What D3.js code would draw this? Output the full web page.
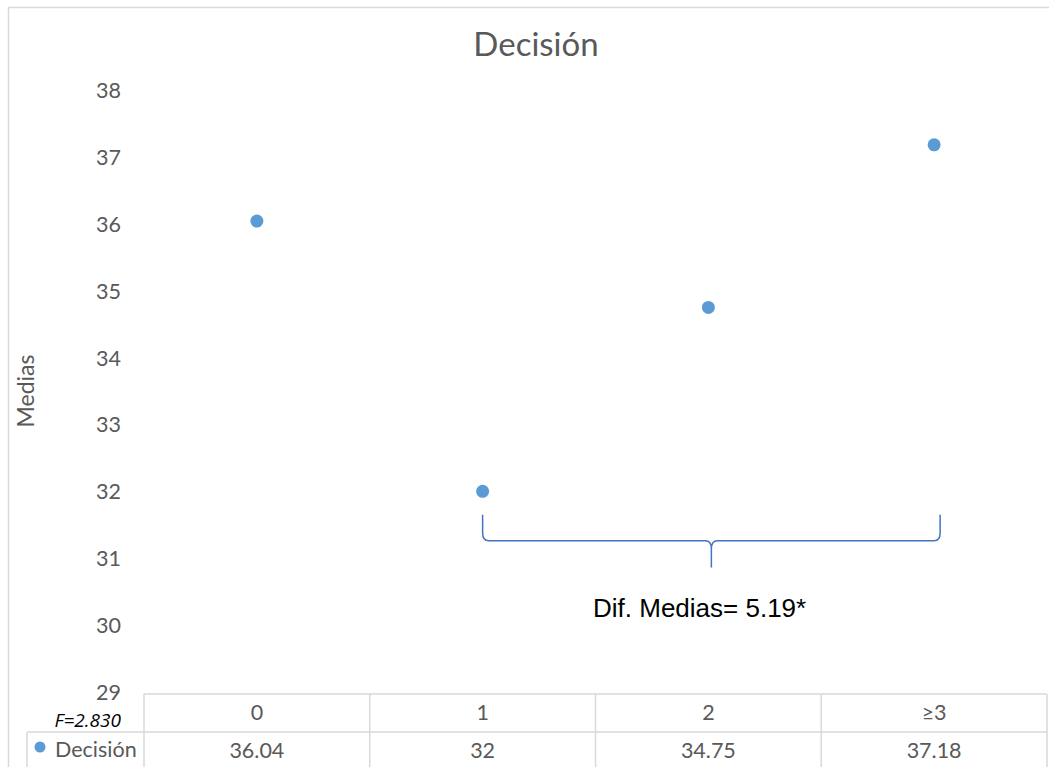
<!DOCTYPE html>
<html>
<head>
<meta charset="utf-8">
<script src="https://cdn.jsdelivr.net/npm/d3@7"></script>
<style>
  html, body { margin: 0; padding: 0; background: #fff; }
  svg { display: block; }
</style>
</head>
<body>
<svg id="chart" width="1049" height="767"></svg>
<script>
// Group labels and mean values for "Decisión"
const categories = ["0", "1", "2", "≥3"];
const seriesName = "Decisión";
const means = [36.04, 32, 34.75, 37.18];
const yTicks = [29, 30, 31, 32, 33, 34, 35, 36, 37, 38];
const fStat = "F=2.830";
const diffLabel = "Dif. Medias= 5.19*";

const svg = d3.select("#chart");
const grey = "#595959";
const lineGrey = "#d9d9d9";
const font = "Lato, 'Open Sans', sans-serif";
const fs = 21.5;

// outer chart frame
svg.append("rect")
  .attr("x", 8.5).attr("y", 7.5)
  .attr("width", 1060).attr("height", 780)
  .attr("fill", "none").attr("stroke", lineGrey).attr("stroke-width", 1.5);

const plot = { left: 144, right: 1047, top: 90, bottom: 692 };

const x = d3.scaleBand().domain(categories).range([plot.left, plot.right]);
const y = d3.scaleLinear().domain([29, 38]).range([plot.bottom, plot.top]);

// title
svg.append("text")
  .attr("x", 536).attr("y", 56)
  .attr("text-anchor", "middle")
  .attr("font-family", font).attr("font-size", 33)
  .attr("fill", grey).text("Decisión");

// y axis title
svg.append("text")
  .attr("transform", "translate(34,391) rotate(-90)")
  .attr("text-anchor", "middle")
  .attr("font-family", font).attr("font-size", 23)
  .attr("fill", grey).text("Medias");

// y axis tick labels (no axis line)
const yAxis = d3.axisLeft(y).tickValues(yTicks).tickSize(0).tickPadding(0);
const gy = svg.append("g").attr("transform", "translate(121,0)").call(yAxis);
gy.select(".domain").remove();
gy.selectAll("text")
  .attr("font-family", font).attr("font-size", fs)
  .attr("fill", grey).attr("dy", "0.35em");

// data table below the plot
const rowTop = 694, rowMid = 732, rowBottom = 767;
const tbl = svg.append("g").attr("stroke", lineGrey).attr("stroke-width", 1.5).attr("fill", "none");
tbl.append("line").attr("x1", plot.left).attr("x2", plot.right).attr("y1", rowTop).attr("y2", rowTop);
tbl.append("line").attr("x1", 27).attr("x2", plot.right).attr("y1", rowMid).attr("y2", rowMid);
tbl.append("line").attr("x1", 27).attr("x2", 27).attr("y1", rowMid).attr("y2", rowBottom + 2);
const edges = categories.map(c => x(c)).concat([plot.right]);
tbl.selectAll("line.v").data(edges).enter().append("line")
  .attr("class", "v")
  .attr("x1", d => d).attr("x2", d => d)
  .attr("y1", rowTop).attr("y2", rowBottom + 2);

svg.selectAll("text.cat").data(categories).enter().append("text")
  .attr("class", "cat")
  .attr("x", d => x(d) + x.bandwidth() / 2).attr("y", 712)
  .attr("dy", "0.35em").attr("text-anchor", "middle")
  .attr("font-family", font).attr("font-size", fs).attr("fill", grey)
  .text(d => d);

svg.selectAll("text.val").data(means).enter().append("text")
  .attr("class", "val")
  .attr("x", (d, i) => x(categories[i]) + x.bandwidth() / 2).attr("y", 750)
  .attr("dy", "0.35em").attr("text-anchor", "middle")
  .attr("font-family", font).attr("font-size", fs).attr("fill", grey)
  .text(d => d);

// legend key in the table
svg.append("circle").attr("cx", 40).attr("cy", 747).attr("r", 5.5).attr("fill", "#5B9BD5");
svg.append("text")
  .attr("x", 55).attr("y", 749).attr("dy", "0.35em")
  .attr("font-family", font).attr("font-size", fs).attr("fill", grey)
  .text(seriesName);

// F statistic
svg.append("text")
  .attr("x", 121).attr("y", 727)
  .attr("text-anchor", "end")
  .attr("font-family", "'Open Sans', sans-serif").attr("font-style", "italic")
  .attr("font-size", 19).attr("fill", "#000")
  .text(fStat);

// mean markers
svg.selectAll("circle.pt").data(means).enter().append("circle")
  .attr("class", "pt")
  .attr("cx", (d, i) => x(categories[i]) + x.bandwidth() / 2)
  .attr("cy", d => y(d))
  .attr("r", 6.5)
  .attr("fill", "#5B9BD5");

// brace spanning groups "1" to "≥3"
const bx1 = x("1") + x.bandwidth() / 2;
const bx2 = x("≥3") + x.bandwidth() / 2 + 6;
const bTop = y(31.65), bLine = y(31.26), bTip = y(30.86);
const bMid = (bx1 + bx2) / 2;
const brace = d3.path();
brace.moveTo(bx1, bTop);
brace.lineTo(bx1, bLine - 8);
brace.quadraticCurveTo(bx1, bLine, bx1 + 6, bLine);
brace.lineTo(bMid - 6, bLine);
brace.quadraticCurveTo(bMid, bLine, bMid, bLine + 8);
brace.lineTo(bMid, bTip);
brace.moveTo(bMid, bLine + 8);
brace.quadraticCurveTo(bMid, bLine, bMid + 6, bLine);
brace.lineTo(bx2 - 6, bLine);
brace.quadraticCurveTo(bx2, bLine, bx2, bLine - 8);
brace.lineTo(bx2, bTop);
svg.append("path").attr("d", brace.toString())
  .attr("fill", "none").attr("stroke", "#4472C4").attr("stroke-width", 1.5);

svg.append("text")
  .attr("x", 593).attr("y", 617)
  .attr("font-family", "'Liberation Sans', Arial, sans-serif").attr("font-size", 26)
  .attr("fill", "#000")
  .text(diffLabel);
</script>
</body>
</html>
